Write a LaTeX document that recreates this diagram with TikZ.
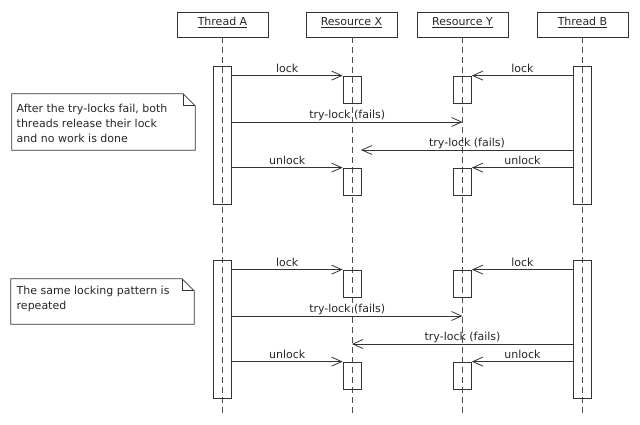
\documentclass[tikz,border=0pt]{standalone}
\usepackage{fontspec}
\setmainfont{DejaVu Sans}
\usetikzlibrary{arrows.meta,calc}
\begin{document}
\begin{tikzpicture}[x=1pt,y=-1pt,
  every node/.style={font=\fontsize{11}{15}\selectfont, text=black!85},
  line/.style={draw=black!80, line width=0.8pt},
  head/.style={line, minimum width=91pt, minimum height=25pt, inner sep=0pt, text height=7pt, text depth=4.6pt},
  life/.style={draw=black!70, line width=0.8pt, dash pattern=on 6pt off 4pt},
  bar/.style={line, minimum width=18pt, inner sep=0pt},
  msg/.style={line, -{Straight Barb[length=10pt,width=9pt]}},
  lbl/.style={midway, anchor=base, yshift=3.5pt, inner sep=0pt},
  notebox/.style={draw=none, inner sep=0pt},
  notetext/.style={anchor=north west, align=left, inner sep=0pt}
]
\useasboundingbox (0,0) rectangle (640,424);

% headers
\node[head] (tA) at (222.5,24.5) {\underline{Thread A}};
\node[head] (rX) at (351.5,24.5) {\underline{Resource X}};
\node[head] (rY) at (462.5,24.5) {\underline{Resource Y}};
\node[head] (tB) at (582.5,24.5) {\underline{Thread B}};

% lifelines
\coordinate (eA) at (222.5,417);
\coordinate (eX) at (352,417);
\coordinate (eY) at (462.5,417);
\coordinate (eB) at (582.5,417);
\draw[life] (tA.south -| eA) -- (eA);
\draw[life] (rX.south -| eX) -- (eX);
\draw[life] (rY.south -| eY) -- (eY);
\draw[life] (tB.south -| eB) -- (eB);

% two identical groups
\foreach \g/\o/\e in {1/0/361, 2/194/352} {
  \node[bar, minimum height=138pt] (bA\g) at (222.5,135+\o) {};
  \node[bar, minimum height=138pt] (bB\g) at (582.5,135+\o) {};
  \node[bar, minimum height=27pt] (xa\g) at (352,89.5+\o) {};
  \node[bar, minimum height=27pt] (xb\g) at (352,181.5+\o) {};
  \node[bar, minimum height=27pt] (ya\g) at (462.5,89.5+\o) {};
  \node[bar, minimum height=27pt] (yb\g) at (462.5,181.5+\o) {};
  \coordinate (ta\g) at (462.5,122+\o);
  \coordinate (tb\g) at (\e,150+\o);
  \draw[msg] (bA\g.east |- xa\g.north) -- node[lbl]{lock} (xa\g.north west);
  \draw[msg] (bB\g.west |- ya\g.north) -- node[lbl]{lock} (ya\g.north east);
  \draw[msg] (bA\g.east |- ta\g) -- node[lbl]{try-lock (fails)} (ta\g);
  \draw[msg] (bB\g.west |- tb\g) -- node[lbl]{try-lock (fails)} (tb\g);
  \draw[msg] (bA\g.east |- xb\g.north) -- node[lbl]{unlock} (xb\g.north west);
  \draw[msg] (bB\g.west |- yb\g.north) -- node[lbl]{unlock} (yb\g.north east);
}

% notes
\node[notebox, minimum width=183pt, minimum height=56pt] (n1) at (103.5,122) {};
\draw[line] (n1.north west) -- ($(n1.north east)+(-12,0)$) -- ($(n1.north east)+(0,12)$) -- (n1.south east) -- (n1.south west) -- cycle;
\draw[line] ($(n1.north east)+(-12,0)$) -- ($(n1.north east)+(-12,12)$) -- ($(n1.north east)+(0,12)$);
\node[notetext] (n1t) at (16.5,103.6) {After the try-locks fail, both\\threads release their lock\\and no work is done};

\node[notebox, minimum width=183pt, minimum height=45pt] (n2) at (102.5,301.5) {};
\draw[line] (n2.north west) -- ($(n2.north east)+(-12,0)$) -- ($(n2.north east)+(0,12)$) -- (n2.south east) -- (n2.south west) -- cycle;
\draw[line] ($(n2.north east)+(-12,0)$) -- ($(n2.north east)+(-12,12)$) -- ($(n2.north east)+(0,12)$);
\node[notetext] (n2t) at (16.5,285.6) {The same locking pattern is\\repeated};
\end{tikzpicture}
\end{document}
